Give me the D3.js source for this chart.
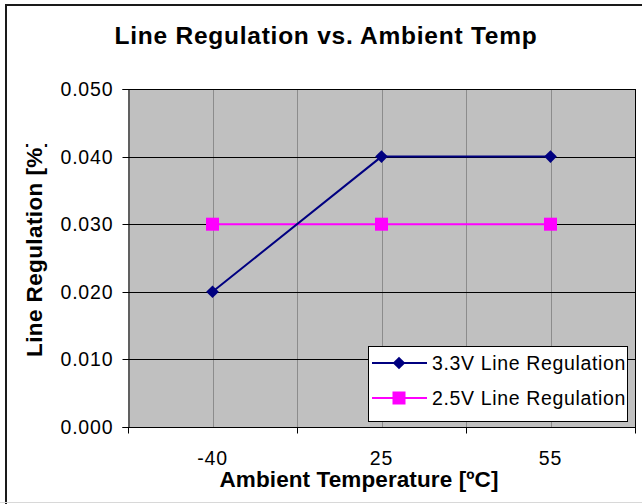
<!DOCTYPE html>
<html><head><meta charset="utf-8">
<script src="https://cdn.jsdelivr.net/npm/d3@7"></script>
<style>body{margin:0;background:#fff}svg{display:block;font-family:Arial,"Liberation Sans",sans-serif}</style>
</head><body><svg id="c" width="642" height="504"></svg>
<script>
const categories = ["-40", "25", "55"];
const series33 = [0.020, 0.040, 0.040];
const series25 = [0.030, 0.030, 0.030];
const yTicks = [0, 0.01, 0.02, 0.03, 0.04, 0.05];
const seriesNames = ["3.3V Line Regulation", "2.5V Line Regulation"];

const svg = d3.select("#c");
const L = 128, R = 635, T = 89, B = 427;
const x = d3.scaleBand().domain(categories).range([L, R]).padding(0);
const y = d3.scaleLinear().domain([0, 0.05]).range([B, T]);

// outer frame (left/top visible)
svg.append("rect").attr("x", 6).attr("y", 5).attr("width", 700).attr("height", 700)
  .attr("fill", "none").attr("stroke", "#1a1a1a").attr("stroke-width", 2);
svg.append("line").attr("x1", 0).attr("x2", 642).attr("y1", 502.5).attr("y2", 502.5)
  .attr("stroke", "#d8d8d8").attr("stroke-width", 1);

// title
svg.append("text").attr("x", 326).attr("y", 44).attr("text-anchor", "middle")
  .attr("font-weight", "bold").attr("font-size", 24.5).attr("letter-spacing", 0.75)
  .text("Line Regulation vs. Ambient Temp");

// plot area
svg.append("rect").attr("x", L).attr("y", T).attr("width", R - L).attr("height", B - T).attr("fill", "#c0c0c0");

// vertical gridlines: centers and boundaries
const vx = [];
categories.forEach(c => { vx.push(x(c) + x.bandwidth() / 2); vx.push(x(c) + x.bandwidth()); });
svg.append("g").selectAll("line").data(vx).join("line")
  .attr("x1", d => Math.round(d) + 0.5).attr("x2", d => Math.round(d) + 0.5)
  .attr("y1", T).attr("y2", B).attr("stroke", "#8c8c8c").attr("stroke-width", 1);

// horizontal gridlines
svg.append("g").selectAll("line").data(yTicks.slice(1)).join("line")
  .attr("x1", L).attr("x2", R)
  .attr("y1", d => Math.round(y(d)) + 0.5).attr("y2", d => Math.round(y(d)) + 0.5)
  .attr("stroke", "#000").attr("stroke-width", 1);

// plot border right
svg.append("line").attr("x1", R + 0.5).attr("x2", R + 0.5).attr("y1", T).attr("y2", B).attr("stroke", "#000");

// y axis
const yAxis = svg.append("g").attr("transform", `translate(${L + 0.5},0)`)
  .call(d3.axisLeft(y).tickValues(yTicks).tickFormat(d3.format(".3f")).tickSize(6).tickPadding(10));
yAxis.selectAll("text").attr("font-size", 19.5).attr("letter-spacing", 0.8).attr("dx", 0.8)
  .attr("font-family", "Arial, 'Liberation Sans', sans-serif").attr("fill", "#000");
yAxis.selectAll("line,path").attr("stroke", "#000");
yAxis.selectAll(".tick").attr("transform", d => `translate(0,${Math.round(y(d)) + 0.5})`);

// x axis
const xAxis = svg.append("g").attr("transform", `translate(0,${B + 0.5})`);
xAxis.append("line").attr("x1", L).attr("x2", R + 1).attr("stroke", "#000");
xAxis.selectAll("line.tk").data([L, ...categories.map(c => x(c) + x.bandwidth())]).join("line")
  .attr("class", "tk").attr("x1", d => Math.round(d) + 0.5).attr("x2", d => Math.round(d) + 0.5)
  .attr("y1", 0).attr("y2", 6).attr("stroke", "#000");
xAxis.selectAll("text").data(categories).join("text")
  .attr("x", d => x(d) + x.bandwidth() / 2).attr("y", 37).attr("text-anchor", "middle")
  .attr("font-size", 19.5).attr("letter-spacing", 0.8).text(d => d);

// axis titles
svg.append("text").attr("x", 359).attr("y", 487).attr("text-anchor", "middle")
  .attr("font-weight", "bold").attr("font-size", 22.5).attr("letter-spacing", 0.1)
  .text("Ambient Temperature [ºC]");
svg.append("clipPath").attr("id", "yclip").append("rect").attr("x", 0).attr("y", 144).attr("width", 120).attr("height", 300);
svg.append("g").attr("clip-path", "url(#yclip)")
  .append("text").attr("transform", "translate(42,357) rotate(-90)")
  .attr("font-weight", "bold").attr("font-size", 22.5).attr("letter-spacing", 0.4)
  .text("Line Regulation [%]");

// series
const cx = d => x(d) + x.bandwidth() / 2;
const line = d3.line().x(d => cx(d[0])).y(d => y(d[1]));
const diamond = d3.symbol().type(d3.symbolSquare).size(80);
function drawSeries(vals, color, type) {
  const pts = categories.map((c, i) => [c, vals[i]]);
  svg.append("path").datum(pts).attr("d", line).attr("fill", "none").attr("stroke", color).attr("stroke-width", 2);
  const g = svg.append("g");
  pts.forEach(p => {
    if (type === "diamond") {
      g.append("path").attr("d", diamond()).attr("fill", color)
        .attr("transform", `translate(${cx(p[0])},${y(p[1])}) rotate(45)`);
    } else {
      g.append("rect").attr("x", cx(p[0]) - 6.5).attr("y", y(p[1]) - 6.5).attr("width", 13).attr("height", 13).attr("fill", color);
    }
  });
}
drawSeries(series25, "#ff00ff", "square");
drawSeries(series33, "#000080", "diamond");

// legend
const lg = svg.append("g");
lg.append("rect").attr("x", 368.5).attr("y", 346.5).attr("width", 259).attr("height", 75)
  .attr("fill", "#fff").attr("stroke", "#000").attr("stroke-width", 1);
const rows = [{name: seriesNames[0], color: "#000080", type: "diamond", y: 363},
              {name: seriesNames[1], color: "#ff00ff", type: "square", y: 398}];
rows.forEach(r => {
  lg.append("line").attr("x1", 372).attr("x2", 427).attr("y1", r.y).attr("y2", r.y).attr("stroke", r.color).attr("stroke-width", 2);
  if (r.type === "diamond") {
    lg.append("path").attr("d", diamond()).attr("fill", r.color).attr("transform", `translate(399,${r.y}) rotate(45)`);
  } else {
    lg.append("rect").attr("x", 392.5).attr("y", r.y - 6.5).attr("width", 13).attr("height", 13).attr("fill", r.color);
  }
  lg.append("text").attr("x", 432).attr("y", r.y + 7).attr("font-size", 19.5).attr("letter-spacing", 0.65).text(r.name);
});
</script></body></html>
